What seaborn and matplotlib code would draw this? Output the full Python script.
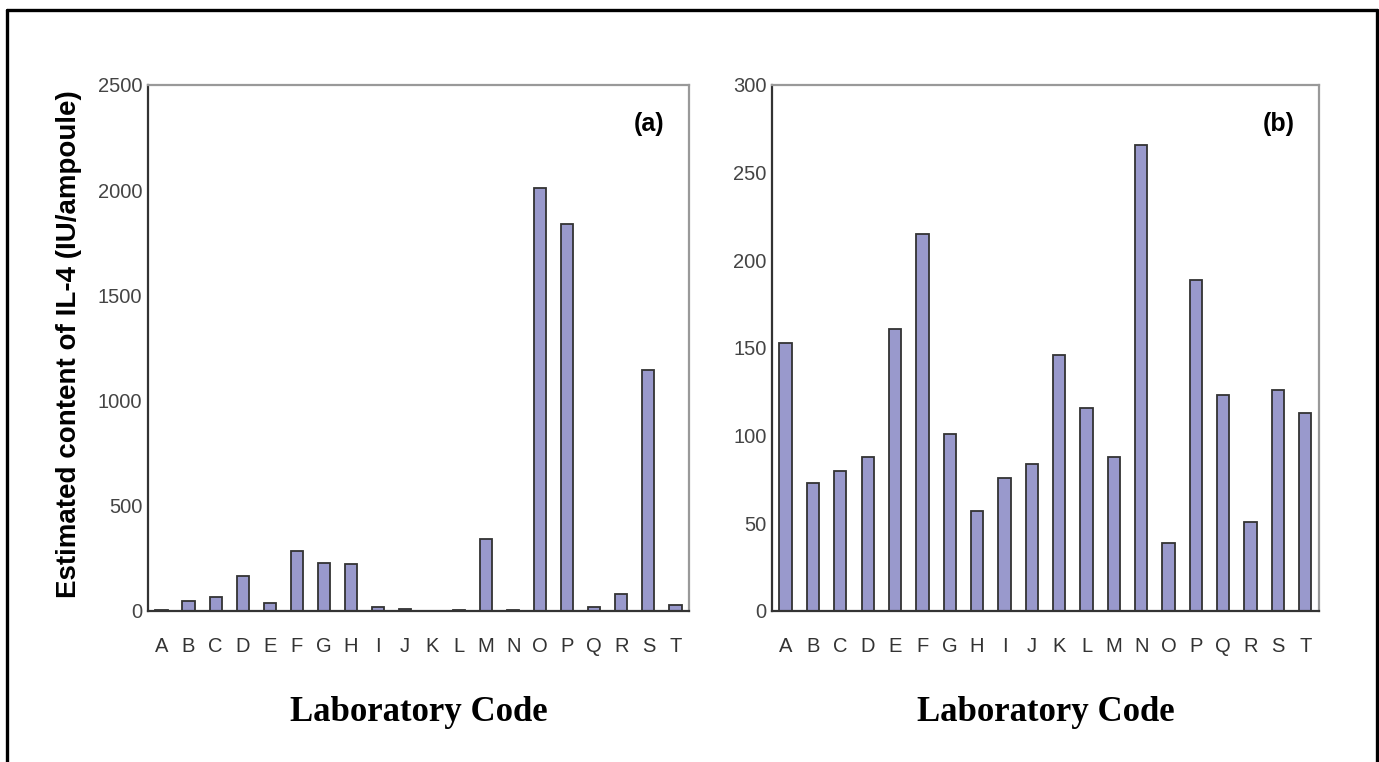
import matplotlib
matplotlib.use('Agg')
import matplotlib.pyplot as plt
from matplotlib.lines import Line2D
import seaborn as sns
import pandas as pd

# laboratory codes and estimated IL-4 content (IU/ampoule)
codes = list('ABCDEFGHIJKLMNOPQRST')
content_a = [5, 46, 67, 165, 37, 284, 229, 223, 19, 10, 0, 3, 343, 3, 2010, 1837, 21, 82, 1143, 29]
content_b = [153, 73, 80, 88, 161, 215, 101, 57, 76, 84, 146, 116, 88, 266, 39, 189, 123, 51, 126, 113]
panel_tags = ['(a)', '(b)']
yticks_a = [0, 500, 1000, 1500, 2000, 2500]
yticks_b = [0, 50, 100, 150, 200, 250, 300]

sns.set_style('white')
plt.rcParams['font.family'] = ['Liberation Sans', 'DejaVu Sans']
plt.rcParams['text.color'] = 'black'

bar_col = '#9999cc'
edge_col = '#333333'

fig = plt.figure(figsize=(13.79, 7.62), dpi=100)
ax1 = fig.add_axes([0.1073, 0.1982, 0.3923, 0.6903])
ax2 = fig.add_axes([0.5598, 0.1982, 0.3967, 0.6903])

frames = [pd.DataFrame({'code': codes, 'value': content_a}),
          pd.DataFrame({'code': codes, 'value': content_b})]

for ax, df, ticks, tag in zip([ax1, ax2], frames, [yticks_a, yticks_b], panel_tags):
    sns.barplot(data=df, x='code', y='value', color=bar_col, saturation=1,
                width=0.45, edgecolor=edge_col, linewidth=1.3, ax=ax)
    ax.set_xlim(-0.5, len(codes) - 0.5)
    ax.set_ylim(ticks[0], ticks[-1])
    ax.set_yticks(ticks)
    ax.set_yticklabels([str(t) for t in ticks], fontsize=14.5, color='#444444')
    ax.set_xticks(range(len(codes)))
    ax.set_xticklabels(codes, fontsize=14.5, color='#333333')
    ax.set_xticks([i - 0.5 for i in range(len(codes) + 1)], minor=True)
    ax.tick_params(axis='x', which='major', length=0, pad=19)
    ax.tick_params(axis='x', which='minor', length=4.5, width=1.2, color='#444444', direction='out')
    ax.tick_params(axis='y', which='major', length=3, width=1, color='#444444', pad=1, direction='out')
    ax.set_xlabel('')
    ax.set_ylabel('')
    for side in ['left', 'bottom']:
        ax.spines[side].set_color('#333333')
        ax.spines[side].set_linewidth(1.6)
    for side in ['top', 'right']:
        ax.spines[side].set_color('#999999')
        ax.spines[side].set_linewidth(1.6)
    ax.text(0.955, 0.925, tag, transform=ax.transAxes, ha='right', va='center',
            fontsize=18, fontweight='bold', color='black')
    ax.text(0.5, -0.21, 'Laboratory Code', transform=ax.transAxes, ha='center',
            va='baseline', fontsize=25, fontweight='bold', color='black',
            family='Liberation Serif')

fig.text(69 / 1379, 1 - 344 / 762, 'Estimated content of IL-4 (IU/ampoule)',
         rotation=90, ha='center', va='center', fontsize=20, fontweight='bold',
         color='black')

# outer frame (open at the bottom)
x0, x1, ytop = 7 / 1379, 1377 / 1379, 1 - 10 / 762
for xs, ys in [([x0, x0], [0, ytop]), ([x0, x1], [ytop, ytop]), ([x1, x1], [ytop, 0])]:
    fig.add_artist(Line2D(xs, ys, transform=fig.transFigure, color='black', lw=2.4))

fig.savefig('out.png', dpi=100)
